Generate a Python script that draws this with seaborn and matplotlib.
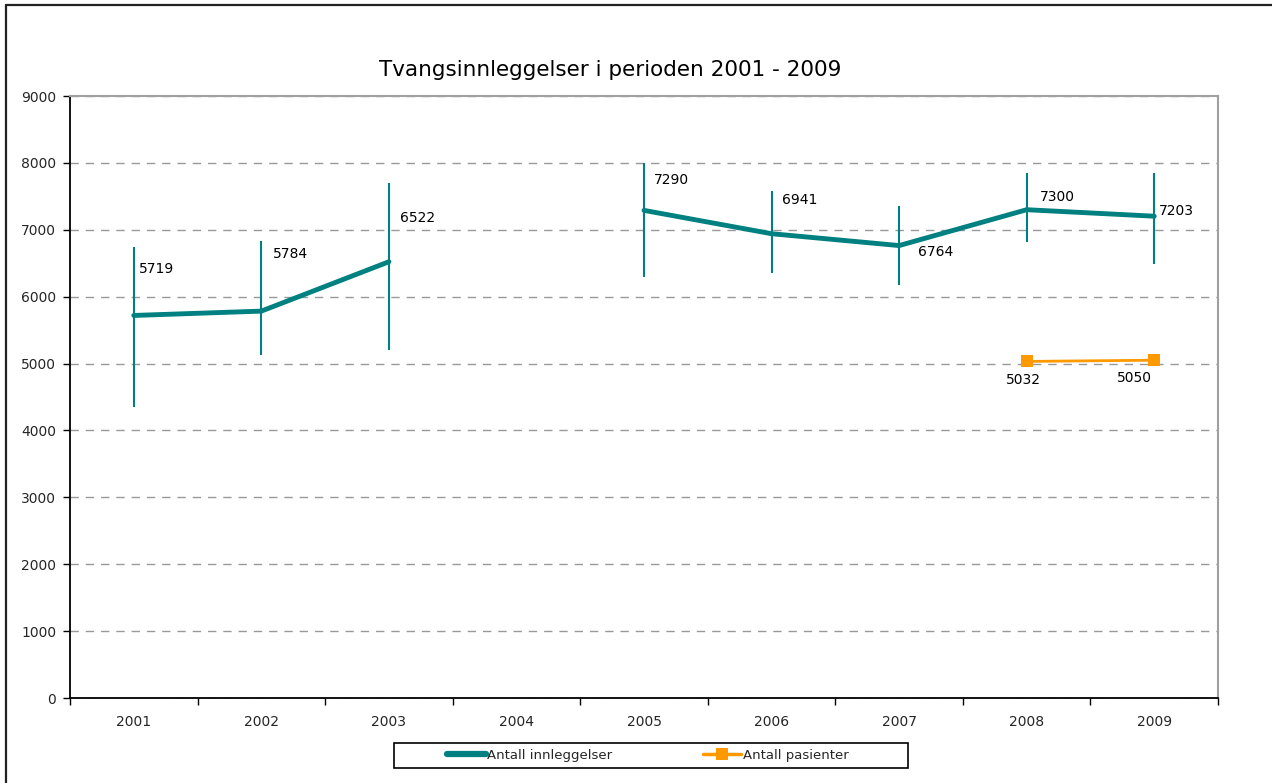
import matplotlib
matplotlib.use("Agg")
import matplotlib.pyplot as plt
import seaborn as sns
import numpy as np
import pandas as pd
from matplotlib.lines import Line2D
from matplotlib.patches import Rectangle

# data
years = ["2001", "2002", "2003", "2004", "2005", "2006", "2007", "2008", "2009"]
innleggelser = [5719, 5784, 6522, np.nan, 7290, 6941, 6764, 7300, 7203]
err_high = [6740, 6830, 7700, np.nan, 8000, 7580, 7350, 7850, 7850]
err_low = [4350, 5130, 5200, np.nan, 6300, 6350, 6170, 6820, 6490]
pasienter = [np.nan, np.nan, np.nan, np.nan, np.nan, np.nan, np.nan, 5032, 5050]

teal = "#008080"
orange = "#FF9900"

# label offsets in pixels (placement only)
teal_offsets = [(5, 46), (12, 57), (11, 44), None, (10, 30), (10, 34), (19, -6), (13, 13), (5, 5)]
orange_offsets = [(-3, -19), (-20, -18)]

sns.set_theme(style="white")
plt.rcParams['font.family'] = ['DejaVu Sans']

df = pd.DataFrame({
    "pos": np.arange(len(years)),
    "year": years,
    "innleggelser": innleggelser,
    "pasienter": pasienter,
})
# split the teal line where 2004 is missing
df["segment"] = (df["innleggelser"].isna()).cumsum()

fig = plt.figure(figsize=(12.72, 7.83), dpi=100)
ax = fig.add_axes([70 / 1272, 1 - 698 / 783, (1218 - 70) / 1272, (698 - 96) / 783])

d1 = df.dropna(subset=["innleggelser"])
sns.lineplot(data=d1, x="pos", y="innleggelser", units="segment", estimator=None,
             color=teal, lw=3.5, ax=ax, zorder=4)
ok = ~np.isnan(np.array(err_high))
ax.vlines(df["pos"][ok], np.array(err_low)[ok], np.array(err_high)[ok], color=teal, lw=1.5, zorder=3)

d2 = df.dropna(subset=["pasienter"])
sns.lineplot(data=d2, x="pos", y="pasienter", color=orange, lw=2, marker="s",
             markersize=8, markeredgewidth=0, ax=ax, zorder=4)

# data labels
for i, v in enumerate(innleggelser):
    if np.isnan(v):
        continue
    dx, dy = teal_offsets[i]
    ax.annotate(f"{int(v)}", (i, v), xytext=(dx, dy), textcoords="offset pixels",
                ha="left", va="center", fontsize=10, color="black")
for (i, v), (dx, dy) in zip(d2[["pos", "pasienter"]].values, orange_offsets):
    ax.annotate(f"{int(v)}", (i, v), xytext=(dx, dy), textcoords="offset pixels",
                ha="center", va="center", fontsize=10, color="black")

ax.set_xlim(-0.5, len(years) - 0.5)
ax.set_ylim(0, 9000)
ax.set_yticks(np.arange(0, 9001, 1000))
ax.set_xticks(np.arange(len(years)))
ax.set_xticklabels(years)
ax.set_xticks(np.arange(-0.5, len(years), 1), minor=True)
ax.tick_params(axis="x", which="major", length=0, pad=12, labelsize=10)
ax.tick_params(axis="x", which="minor", length=5, width=1, color="black", direction="out", bottom=True)
ax.tick_params(axis="y", length=5, width=1, color="black", direction="out", left=True, pad=5, labelsize=10)
ax.set_xlabel("")
ax.set_ylabel("")

ax.yaxis.grid(True, linestyle=(0, (6, 5)), color="#999999", lw=1)
ax.xaxis.grid(False)
ax.set_axisbelow(True)
for s in ["left", "bottom"]:
    ax.spines[s].set_color("black")
    ax.spines[s].set_linewidth(1.3)
for s in ["top", "right"]:
    ax.spines[s].set_color("#a0a0a0")
    ax.spines[s].set_linewidth(1.5)

fig.text(610 / 1272, 1 - 70 / 783, "Tvangsinnleggelser i perioden 2001 - 2009",
         ha="center", va="center", fontsize=15.5, color="black")

handles = [Line2D([], [], color=teal, lw=4.5),
           Line2D([], [], color=orange, lw=2.5, marker="s", markersize=8, markeredgewidth=0)]
leg = fig.legend(handles, ["Antall innleggelser", "Antall pasienter"], ncol=2,
                 loc="center", bbox_to_anchor=(648 / 1272, 1 - 755.5 / 783),
                 fontsize=9.5, handlelength=2.9, handletextpad=0.1, columnspacing=6.9,
                 borderpad=0.35, borderaxespad=0, frameon=False)
# legend box drawn separately so it matches the reference width
fig.add_artist(Rectangle((394 / 1272, 1 - 768 / 783), 514 / 1272, 25 / 783, fill=False,
                         edgecolor="black", lw=1.2, transform=fig.transFigure))

# outer chart frame (top and left edges visible)
fig.add_artist(Line2D([6 / 1272, 6 / 1272], [0, 1 - 5 / 783], color="#222222", lw=1.6,
                      transform=fig.transFigure))
fig.add_artist(Line2D([6 / 1272, 1], [1 - 5 / 783, 1 - 5 / 783], color="#222222", lw=1.6,
                      transform=fig.transFigure))

fig.savefig("out.png", dpi=100)
